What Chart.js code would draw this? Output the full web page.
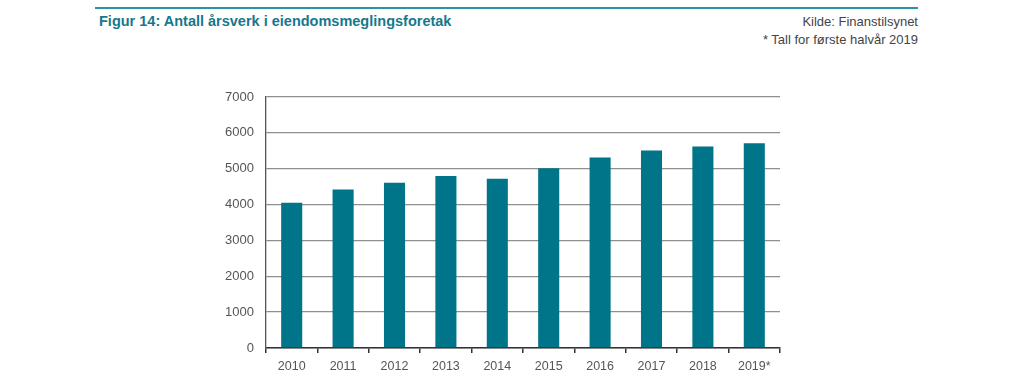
<!DOCTYPE html>
<html>
<head>
<meta charset="utf-8">
<script src="https://cdn.jsdelivr.net/npm/chart.js@4"></script>
<style>
  body { margin: 0; background: #fff; font-family: "Liberation Sans", Arial, sans-serif; }
  #wrap { position: relative; width: 1024px; height: 388px; }
  #topline { position: absolute; left: 95px; top: 7px; width: 823px; height: 1.5px; background: #2a93a6; }
  #title { position: absolute; left: 99px; top: 13px; font-size: 14.5px; font-weight: bold; color: #16788c; }
  #source { position: absolute; right: 106px; top: 13px; font-size: 13px; line-height: 18px; color: #444; text-align: right; }
  canvas { position: absolute; left: 0; top: 0; }
</style>
</head>
<body>
<div id="wrap">
  <div id="topline"></div>
  <div id="title">Figur 14: Antall årsverk i eiendomsmeglingsforetak</div>
  <div id="source">Kilde: Finanstilsynet<br>* Tall for første halvår 2019</div>
  <canvas id="chart" width="1024" height="388"></canvas>
</div>
<script>
const years = ['2010', '2011', '2012', '2013', '2014', '2015', '2016', '2017', '2018', '2019*'];
const arsverk = [4050, 4420, 4610, 4800, 4720, 5010, 5310, 5510, 5620, 5710];
const yTicks = [0, 1000, 2000, 3000, 4000, 5000, 6000, 7000];

const ctx = document.getElementById('chart').getContext('2d');
const chart = new Chart(ctx, {
    type: 'bar',
    data: {
        labels: years,
        datasets: [{
            label: 'Årsverk',
            data: arsverk,
            backgroundColor: '#007589',
            categoryPercentage: 1,
            barPercentage: 0.41
        }]
    },
    options: {
        responsive: false,
        animation: false,
        layout: {
            padding: { left: 200, right: 244, top: 97, bottom: 0 }
        },
        plugins: {
            legend: { display: false },
            tooltip: { enabled: false }
        },
        scales: {
            x: {
                offset: true,
                afterFit: function (scale) { scale.height = 40; },
                grid: {
                    offset: true,
                    drawOnChartArea: false,
                    drawTicks: true,
                    tickLength: 5,
                    color: '#333',
                    lineWidth: 1.5
                },
                border: { color: '#333', width: 1.5 },
                ticks: {
                    color: '#555',
                    font: { family: 'Liberation Sans', size: 12.5 },
                    padding: 6,
                    maxRotation: 0
                }
            },
            y: {
                min: 0,
                max: 7000,
                afterFit: function (scale) { scale.width = 66; },
                afterBuildTicks: function (scale) {
                    scale.ticks = yTicks.map(v => ({ value: v }));
                },
                grid: {
                    color: '#8f8f8f',
                    lineWidth: 1.3,
                    drawTicks: false
                },
                border: { color: '#555', width: 1.3 },
                ticks: {
                    color: '#555',
                    font: { family: 'Liberation Sans', size: 13 },
                    padding: 12,
                    callback: function (value) { return String(value); }
                }
            }
        }
    }
});
</script>
</body>
</html>
